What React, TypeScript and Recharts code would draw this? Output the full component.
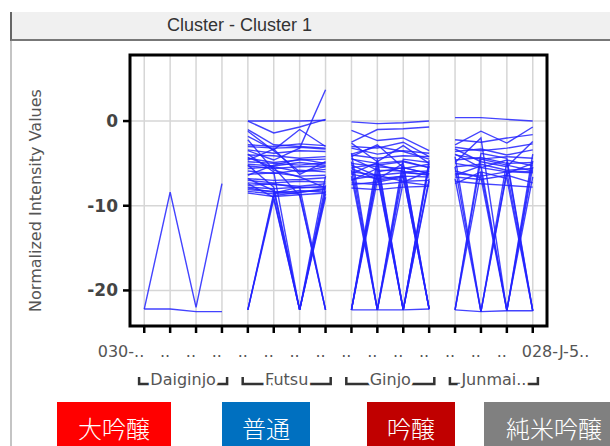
import React from "react";
import { LineChart, Line, XAxis, YAxis, CartesianGrid, ReferenceArea } from "recharts";

// conditions along x: 4 sake grades x 4 replicates
const conditionLabels = [
  "030-..", "..", "..", "..", "..", "..", "..", "..",
  "..", "..", "..", "..", "..", "..", "..", "028-J-5..",
];
const conditionTicks = [0, 1, 2, 3, 4, 5, 6, 7, 8, 9, 10, 11, 12, 13, 14, 15];
const groupNames = ["Daiginjo", "Futsu", "Ginjo", "Junmai.."];
const groupCenters = [1.5, 5.5, 9.5, 13.5];
const yTicks = [0, -10, -20];
const gradeNames = ["大吟醸", "普通", "吟醸", "純米吟醸"];

// normalized intensity profiles, one row per entity (4 replicates each)
const daiginjo = [
  [-22.2, -8.4, -22.0, -7.4],
  [-22.2, -22.2, -22.5, -22.5],
];

const futsu = [
  [0.0, 0.0, 0.0, 0.1],
  [0.0, -1.4, -0.7, 0.2],
  [-1.0, -2.8, -3.0, -3.2],
  [-1.8, -3.4, -1.0, -3.0],
  [-3.5, -4.6, -3.2, 3.7],
  [-2.8, -3.0, -2.7, -2.9],
  [-3.0, -3.2, -3.1, -3.3],
  [-3.4, -3.8, -3.5, -3.6],
  [-4.0, -4.1, -4.4, -4.2],
  [-4.4, -4.9, -4.6, -4.5],
  [-4.8, -5.0, -5.2, -4.9],
  [-5.1, -5.3, -4.9, -5.2],
  [-5.3, -5.6, -5.4, -5.3],
  [-5.6, -5.4, -6.0, -5.7],
  [-5.9, -6.2, -5.8, -6.0],
  [-6.3, -6.1, -6.5, -6.4],
  [-6.8, -7.0, -6.9, -6.7],
  [-7.0, -7.3, -7.1, -7.2],
  [-7.3, -7.5, -7.7, -7.4],
  [-7.6, -7.4, -7.9, -7.7],
  [-7.8, -8.0, -7.8, -7.9],
  [-8.1, -8.3, -8.4, -8.0],
  [-8.3, -8.6, -8.2, -8.4],
  [-8.5, -8.9, -8.7, -8.5],
  [-1.2, -3.5, -6.0, -5.4],
  [-4.6, -3.3, -6.3, -4.8],
  [-6.4, -5.2, -4.5, -5.0],
  [-2.2, -5.8, -6.6, -7.9],
  [-22.3, -8.8, -8.4, -8.1],
  [-22.3, -9.2, -22.3, -8.2],
  [-22.3, -8.5, -7.8, -22.3],
  [-6.8, -8.2, -22.3, -7.6],
  [-7.4, -9.0, -22.3, -8.6],
  [-5.2, -7.8, -22.3, -9.0],
  [-4.3, -5.5, -8.8, -22.3],
  [-7.9, -8.4, -8.6, -22.3],
  [-3.9, -6.0, -22.3, -6.5],
];

const ginjo = [
  [-0.1, -0.3, -0.2, 0.0],
  [-1.1, -2.3, -2.0, -3.5],
  [-2.5, -1.0, -0.9, -0.7],
  [-3.0, -3.2, -2.5, -4.2],
  [-3.2, -3.9, -3.5, -3.8],
  [-3.9, -3.0, -3.6, -4.5],
  [-4.0, -4.4, -4.1, -4.2],
  [-4.5, -5.0, -4.7, -5.5],
  [-5.0, -5.4, -5.6, -5.1],
  [-5.5, -5.1, -6.0, -5.9],
  [-6.0, -6.4, -6.1, -6.3],
  [-6.3, -6.8, -6.5, -6.6],
  [-6.9, -6.4, -7.1, -7.0],
  [-7.3, -7.5, -7.2, -7.6],
  [-7.9, -8.1, -7.8, -7.7],
  [-4.2, -2.8, -5.5, -6.2],
  [-2.6, -4.8, -2.9, -5.0],
  [-22.3, -6.0, -5.5, -6.2],
  [-22.3, -4.5, -22.3, -5.0],
  [-22.3, -7.0, -6.5, -22.2],
  [-22.3, -5.2, -4.8, -5.5],
  [-5.8, -22.3, -6.0, -6.4],
  [-4.8, -22.3, -5.2, -22.2],
  [-6.5, -22.3, -7.2, -5.9],
  [-3.8, -22.3, -4.5, -4.9],
  [-5.2, -6.5, -22.3, -6.8],
  [-6.2, -4.9, -22.3, -5.3],
  [-7.0, -5.6, -22.3, -4.6],
  [-22.3, -6.2, -22.3, -7.1],
  [-4.4, -5.8, -5.9, -22.2],
  [-5.6, -6.9, -5.0, -22.2],
  [-7.5, -7.2, -6.6, -22.2],
  [-22.3, -22.3, -22.3, -22.2],
];

const junmai = [
  [0.4, 0.4, 0.2, 0.0],
  [-2.2, -2.5, -2.0, -1.6],
  [-2.8, -1.2, -2.6, -0.7],
  [-3.1, -3.5, -3.2, -2.7],
  [-3.6, -3.3, -4.0, -3.4],
  [-4.0, -4.5, -4.2, -4.4],
  [-4.6, -4.3, -5.0, -4.9],
  [-5.0, -5.5, -4.6, -5.3],
  [-5.4, -5.1, -5.8, -5.6],
  [-6.2, -6.5, -6.0, -6.1],
  [-6.6, -6.9, -6.4, -7.3],
  [-7.1, -7.4, -7.6, -7.8],
  [-3.3, -4.8, -5.4, -2.4],
  [-22.3, -4.5, -5.2, -5.9],
  [-22.3, -6.0, -22.3, -6.6],
  [-22.3, -3.8, -4.4, -22.4],
  [-5.4, -22.5, -5.9, -6.0],
  [-4.2, -22.5, -4.8, -22.4],
  [-6.8, -22.5, -6.2, -5.0],
  [-5.9, -6.7, -22.4, -5.4],
  [-4.9, -2.0, -22.4, -3.9],
  [-6.4, -5.3, -22.4, -4.7],
  [-7.4, -6.0, -6.8, -22.4],
  [-3.9, -5.5, -6.0, -22.4],
  [-22.3, -22.5, -22.4, -22.4],
];

const groups = [daiginjo, futsu, ginjo, junmai];
const profiles = groups.flatMap((rows, g) =>
  rows.map((row) => row.map((y, i) => ({ x: g * 4 + i, y })))
);

const X_DOMAIN: [number, number] = [-0.55, 15.55];
const Y_DOMAIN: [number, number] = [-24.2, 7.8];
const gradeColors = ["#ff0000", "#0070c0", "#c00000", "#808080"];
const gradeBoxes = [
  { left: 57, width: 114 },
  { left: 222, width: 88 },
  { left: 367, width: 88 },
  { left: 484, width: 140 },
];

const ConditionTick = ({ x, y, payload }: any) => {
  const i = payload.value;
  const last = i === conditionLabels.length - 1;
  return (
    <text
      x={last ? x - 11 : x}
      y={y}
      dy={22}
      textAnchor={last ? "start" : "end"}
      fill="#555"
      fontSize={16}
      fontFamily="DejaVu Sans"
    >
      {conditionLabels[i]}
    </text>
  );
};

const GroupTick = ({ x, y, index }: any) => {
  const half = 44;
  const by = y + 28;
  return (
    <g>
      <path
        d={`M${x - half},${by - 7}V${by}H${x + half}V${by - 7}`}
        stroke="#333"
        strokeWidth={2.5}
        fill="none"
      />
      <text
        x={x}
        y={by + 1}
        textAnchor="middle"
        fontSize={16}
        fill="#555"
        stroke="#fff"
        strokeWidth={6}
        paintOrder="stroke"
        fontFamily="DejaVu Sans"
      >
        {groupNames[index]}
      </text>
    </g>
  );
};

const YLabel = ({ viewBox }: any) => {
  const cy = viewBox.y + viewBox.height / 2 + 10;
  return (
    <text
      x={35}
      y={cy}
      transform={`rotate(-90, 35, ${cy})`}
      textAnchor="middle"
      dominantBaseline="central"
      fill="#555"
      fontSize={16}
      fontFamily="DejaVu Sans"
    >
      Normalized Intensity Values
    </text>
  );
};

export default function App() {
  return (
    <div
      style={{
        position: "fixed",
        left: 0,
        top: 0,
        width: 610,
        height: 446,
        overflow: "hidden",
        background: "#fff",
      }}
    >
      {/* panel header */}
      <div
        style={{
          position: "absolute",
          left: 10,
          top: 12,
          width: 600,
          height: 27,
          background: "#f0f0f0",
          borderLeft: "2px solid #666",
          borderBottom: "2px solid #777",
        }}
      >
        <span
          style={{
            position: "absolute",
            left: 155,
            top: 3,
            fontFamily: "Liberation Sans",
            fontSize: 18,
            color: "#333",
          }}
        >
          Cluster - Cluster 1
        </span>
      </div>
      <div
        style={{ position: "absolute", left: 10, top: 41, width: 2, height: 410, background: "#c4c4c4" }}
      />

      <div style={{ position: "absolute", left: 0, top: 0 }}>
        <LineChart width={610} height={446} margin={{ top: 55, right: 63, bottom: 60, left: 60 }}>
          <CartesianGrid stroke="#d6d6d6" strokeWidth={1.5} />
          <XAxis
            type="number"
            dataKey="x"
            domain={X_DOMAIN}
            allowDataOverflow
            ticks={conditionTicks}
            interval={0}
            height={30}
            axisLine={false}
            tickSize={7}
            tickMargin={2}
            tickLine={{ stroke: "#000", strokeWidth: 2.5 }}
            tick={<ConditionTick />}
          />
          <XAxis
            xAxisId="grp"
            type="number"
            dataKey="x"
            domain={X_DOMAIN}
            allowDataOverflow
            ticks={groupCenters}
            interval={0}
            height={30}
            axisLine={false}
            tickLine={false}
            tickSize={0}
            tickMargin={0}
            tick={<GroupTick />}
          />
          <YAxis
            type="number"
            domain={Y_DOMAIN}
            allowDataOverflow
            ticks={yTicks}
            width={70}
            axisLine={false}
            tickSize={7}
            tickMargin={5}
            tickLine={{ stroke: "#000", strokeWidth: 2.5 }}
            tick={{ fill: "#444", fontSize: 17, fontWeight: 700, fontFamily: "DejaVu Sans" }}
            label={<YLabel />}
          />
          {profiles.map((pts, k) => (
            <Line
              key={k}
              data={pts}
              dataKey="y"
              stroke="#2222ff"
              strokeWidth={1.4}
              strokeOpacity={0.85}
              dot={false}
              activeDot={false}
              isAnimationActive={false}
            />
          ))}
          <ReferenceArea
            x1={X_DOMAIN[0]}
            x2={X_DOMAIN[1]}
            y1={Y_DOMAIN[0]}
            y2={Y_DOMAIN[1]}
            fill="none"
            stroke="#000"
            strokeWidth={3}
            ifOverflow="visible"
          />
        </LineChart>
      </div>

      {/* grade legend boxes */}
      {gradeNames.map((name, i) => (
        <div
          key={name}
          style={{
            position: "absolute",
            left: gradeBoxes[i].left,
            top: 402,
            width: gradeBoxes[i].width,
            height: 52,
            lineHeight: "52px",
            background: gradeColors[i],
            color: "#fff",
            textAlign: "center",
            fontFamily: "Noto Sans CJK JP",
            fontWeight: 300,
            fontSize: 24,
          }}
        >
          {name}
        </div>
      ))}
    </div>
  );
}
